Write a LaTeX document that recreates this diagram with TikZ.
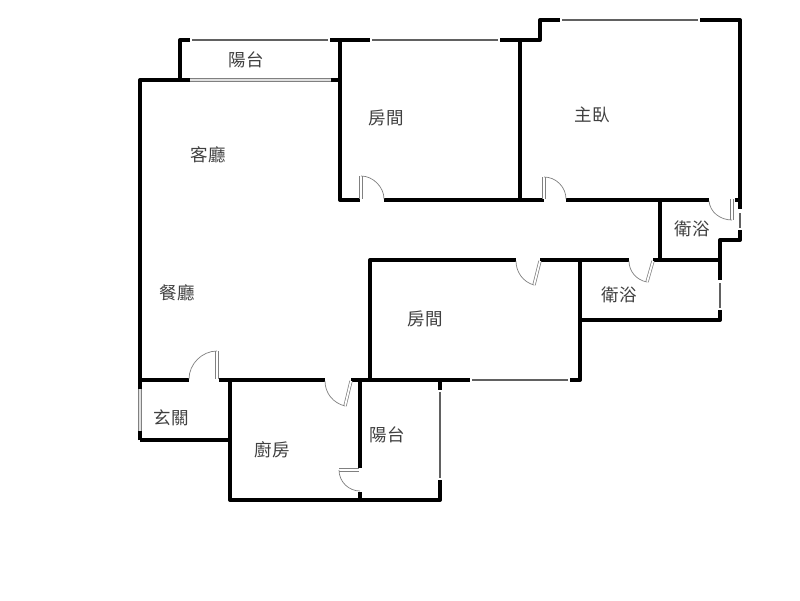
\documentclass[tikz,border=0pt]{standalone}
\usepackage{fontspec}
\newfontfamily\cjk{Noto Sans CJK TC}
\tikzset{
  wall/.style={draw=black,line width=4pt,line join=round,line cap=butt},
  glass/.style={draw=black!62,line width=1.6pt},
  glassdouble/.style={draw=black!50,line width=3.2pt,postaction={draw=white!88!black,line width=1.4pt}},
  leaf/.style={draw=black!50,line width=3.2pt,postaction={draw=white,line width=1.8pt}},
  swing/.style={draw=black!50,line width=.7pt},
  room/.style={text=black!75,font=\cjk\fontsize{17.5pt}{19pt}\selectfont,inner sep=0pt}
}
\begin{document}
\begin{tikzpicture}[x=1pt,y=-1pt]
\useasboundingbox[fill=white] (0,0) rectangle (800,600);
% walls
\draw[wall] (190,40) -- (180,40) -- (180,80);
\draw[wall] (330,40) -- (370,40);
\draw[wall] (500,40) -- (540,40) -- (540,20) -- (560,20);
\draw[wall] (700,20) -- (740,20) -- (740,209);
\draw[wall] (735,200) -- (740,200);
\draw[wall] (740,230) -- (740,240) -- (720,240) -- (720,280);
\draw[wall] (720,310) -- (720,320) -- (580,320);
\draw[wall] (580,260) -- (580,380) -- (570,380);
\draw[wall] (140,440) -- (140,80) -- (190,80);
\draw[wall] (330,80) -- (340,80);
\draw[wall] (340,40) -- (340,200) -- (360,200);
\draw[wall] (384,200) -- (544,200);
\draw[wall] (566,200) -- (709,200);
\draw[wall] (520,40) -- (520,200);
\draw[wall] (660,200) -- (660,260);
\draw[wall] (370,380) -- (370,260) -- (516,260);
\draw[wall] (540,260) -- (629,260);
\draw[wall] (653,260) -- (720,260);
\draw[wall] (140,380) -- (189,380);
\draw[wall] (219,380) -- (325,380);
\draw[wall] (351,380) -- (470,380);
\draw[wall] (230,440) -- (140,440);
\draw[wall] (230,380) -- (230,500) -- (440,500) -- (440,480);
\draw[wall] (440,380) -- (440,390);
\draw[wall] (360,380) -- (360,468);
\draw[wall] (360,492) -- (360,500);
% cover the left wall where the entrance window sits
\draw[draw=white,line width=4.5pt] (140,389) -- (140,431);
% windows
\draw[glass] (192,40) -- (328,40);
\draw[glass] (372,40) -- (498,40);
\draw[glass] (562,20) -- (698,20);
\draw[glass] (472,380) -- (568,380);
\draw[glass] (440,392) -- (440,478);
\draw[glass] (720,283) -- (720,308);
\draw[glass] (740,213) -- (740,228);
\draw[glassdouble] (190,80) -- (331,80);
\draw[glassdouble] (140,389) -- (140,431);
% doors
\draw[leaf] (361,176) -- (361,199);
\draw[swing] (361,176) .. controls (373,176) and (384,187) .. (384,199);
\draw[leaf] (544,177) -- (544,199);
\draw[swing] (544,177) .. controls (556,177) and (566,187) .. (566,199);
\draw[leaf] (732,199) -- (732,220);
\draw[swing] (709,201) .. controls (710,212) and (720,220) .. (732,220);
\draw[leaf] (540,261) -- (534,285);
\draw[swing] (516,261) .. controls (516,272) and (523,282) .. (534,285);
\draw[leaf] (653,261) -- (647,282);
\draw[swing] (629,261) .. controls (629,271) and (636,280) .. (647,282);
\draw[leaf] (217,351) -- (217,379);
\draw[swing] (217,351) .. controls (202,351) and (189,364) .. (189,379);
\draw[leaf] (351,381) -- (345,406);
\draw[swing] (325,381) .. controls (325,393) and (333,403) .. (345,406);
\draw[leaf] (339,470) -- (359,470);
\draw[swing] (339,470) .. controls (339,482) and (349,491) .. (360,491);
% labels
\node[room] (balconya) at (246,60) {陽台};
\node[room] (rooma) at (386,118) {房間};
\node[room] (master) at (592,115) {主臥};
\node[room] (living) at (208,155) {客廳};
\node[room] (dining) at (177,293) {餐廳};
\node[room] (roomb) at (425,319) {房間};
\node[room] (batha) at (692,229) {衛浴};
\node[room] (bathb) at (619,295) {衛浴};
\node[room] (entry) at (171,418) {玄關};
\node[room] (kitchen) at (272,450) {廚房};
\node[room] (balconyb) at (387,435) {陽台};
\end{tikzpicture}
\end{document}
